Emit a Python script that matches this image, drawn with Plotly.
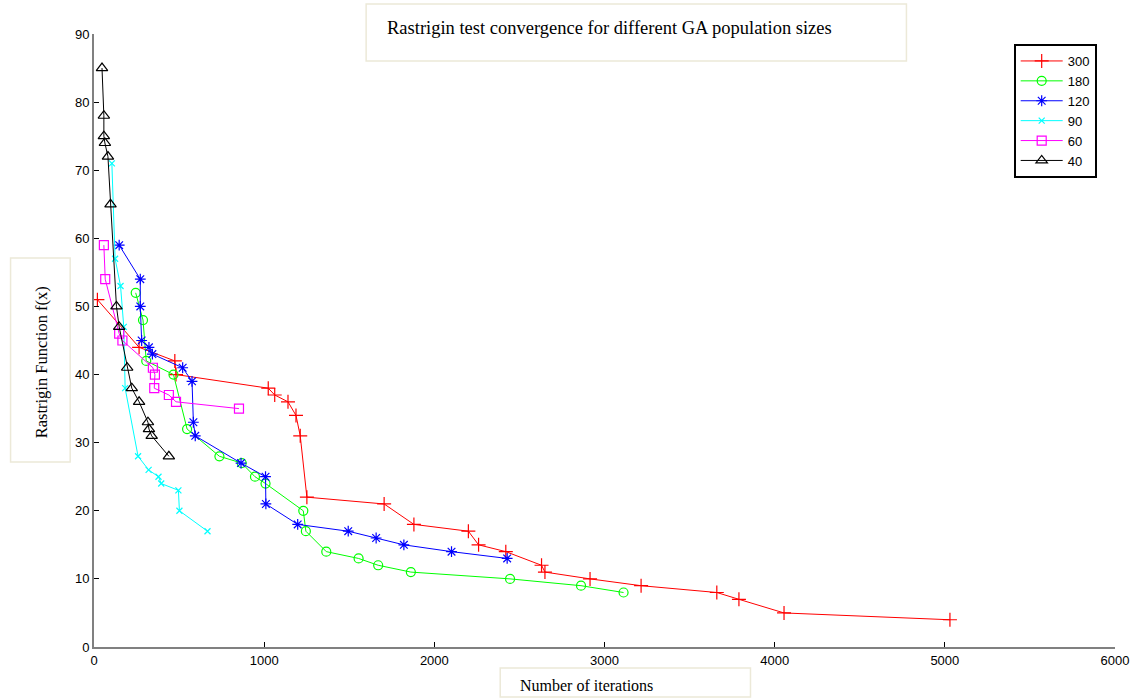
import plotly.graph_objects as go

# ---- data ----
x300 = [20, 265, 475, 482, 1024, 1062, 1140, 1187, 1212, 1251, 1705, 1880, 2200, 2260, 2420, 2630, 2650, 2915, 3215, 3660, 3790, 4055, 5030]
y300 = [51, 44, 42, 40, 38, 37, 36, 34, 31, 22, 21, 18, 17, 15, 14, 12, 11, 10, 9, 8, 7, 5, 4]

x180 = [245, 288, 307, 467, 547, 737, 868, 946, 1008, 1230, 1245, 1365, 1555, 1670, 1862, 2445, 2862, 3112]
y180 = [52, 48, 42, 40, 32, 28, 27, 25, 24, 20, 17, 14, 13, 12, 11, 10, 9, 8]

x120 = [148, 272, 272, 280, 323, 343, 521, 576, 584, 595, 864, 1008, 1010, 1197, 1494, 1658, 1821, 2101, 2428]
y120 = [59, 54, 50, 45, 44, 43, 41, 39, 33, 31, 27, 25, 21, 18, 17, 16, 15, 14, 13]

x90 = [105, 124, 156, 175, 183, 259, 321, 379, 395, 496, 502, 667]
y90 = [71, 57, 53, 47, 38, 28, 26, 25, 24, 23, 20, 17]

x60 = [58, 66, 148, 167, 346, 358, 354, 440, 482, 852]
y60 = [59, 54, 46, 45, 41, 40, 38, 37, 36, 35]

x40 = [47, 58, 58, 64, 82, 97, 132, 148, 195, 222, 265, 317, 323, 339, 440]
y40 = [85, 78, 75, 74, 72, 65, 50, 47, 41, 38, 36, 33, 32, 31, 28]

series_names = ["300", "180", "120", "90", "60", "40"]
x_ticks = [0, 1000, 2000, 3000, 4000, 5000, 6000]
y_ticks = [0, 10, 20, 30, 40, 50, 60, 70, 80, 90]

title_text = "Rastrigin test convergence for different GA population sizes"
ylabel_text = "Rastrigin Function f(x)"
xlabel_text = "Number of iterations"

# ---- styling ----
W, H = 1141, 698
L, R, T, B = 94, 19, 34, 51
PW, PH = W - L - R, H - T - B

def px(xp):
    return (xp - L) / PW

def py(yp):
    return (H - B - yp) / PH

styles = [
    dict(color="#FF0000", symbol="cross-thin-open", size=10),
    dict(color="#00FF00", symbol="circle-open", size=9),
    dict(color="#0000FF", symbol="asterisk-open", size=9),
    dict(color="#00FFFF", symbol="x-thin-open", size=6),
    dict(color="#FF00FF", symbol="square-open", size=9),
    dict(color="#000000", symbol="triangle-up-open", size=10),
]
xs = [x300, x180, x120, x90, x60, x40]
ys = [y300, y180, y120, y90, y60, y40]

fig = go.Figure()
for name, xv, yv, st in zip(series_names, xs, ys, styles):
    fig.add_trace(go.Scatter(
        x=xv, y=yv, name=name, mode="lines+markers",
        line=dict(color=st["color"], width=1),
        marker=dict(symbol=st["symbol"], size=st["size"], color=st["color"],
                    line=dict(color=st["color"], width=1.2)),
    ))

axis_font = dict(family="Liberation Sans, Arial", size=13, color="#000000")
fig.update_xaxes(range=[0, 6000], tickvals=x_ticks, ticks="inside", ticklen=5,
                 tickcolor="#000000", showgrid=False, zeroline=False,
                 showline=True, linecolor="#808080", linewidth=2,
                 tickfont=axis_font)
fig.update_yaxes(range=[0, 90], tickvals=y_ticks, ticks="inside", ticklen=5,
                 tickcolor="#000000", showgrid=False, zeroline=False,
                 showline=True, linecolor="#808080", linewidth=2,
                 tickfont=axis_font)

box_line = dict(color="#ECE9D8", width=1.5)
shapes = [
    dict(type="rect", xref="paper", yref="paper", x0=px(368), x1=px(912), y0=py(61), y1=py(4), line=box_line),
    dict(type="rect", xref="paper", yref="paper", x0=px(10), x1=px(70), y0=py(462), y1=py(258), line=box_line),
    dict(type="rect", xref="paper", yref="paper", x0=px(503), x1=px(755), y0=py(697), y1=py(668), line=box_line),
]
serif = "Liberation Serif, Times New Roman"
annotations = [
    dict(text=title_text, xref="paper", yref="paper", x=px(387), y=py(28), xanchor="left", yanchor="middle",
         showarrow=False, font=dict(family=serif, size=18.5, color="#000000")),
    dict(text=ylabel_text, xref="paper", yref="paper", x=px(41), y=py(362), xanchor="center", yanchor="middle",
         textangle=-90, showarrow=False, font=dict(family=serif, size=16.5, color="#000000")),
    dict(text=xlabel_text, xref="paper", yref="paper", x=px(521), y=py(685), xanchor="left", yanchor="middle",
         showarrow=False, font=dict(family=serif, size=16, color="#000000")),
]

fig.update_layout(
    width=W, height=H,
    margin=dict(l=L, r=R, t=T, b=B),
    paper_bgcolor="#FFFFFF", plot_bgcolor="#FFFFFF",
    shapes=shapes, annotations=annotations,
    legend=dict(x=px(1020), y=py(44), xanchor="left", yanchor="top",
                bordercolor="#000000", borderwidth=2, bgcolor="#FFFFFF",
                font=dict(family="Liberation Sans, Arial", size=13, color="#000000"),
                tracegroupgap=0, itemwidth=42),
    showlegend=True,
)

fig.write_html("out.html")
